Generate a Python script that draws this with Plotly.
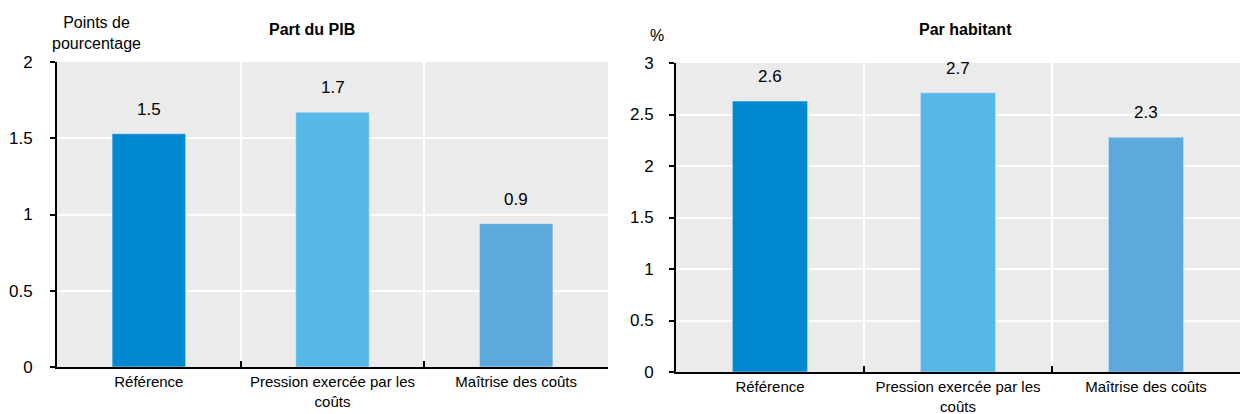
import plotly.graph_objects as go

categories = ["Référence", "Pression exercée par les<br>coûts", "Maîtrise des coûts"]
gdp_share = [1.53, 1.67, 0.94]
per_capita = [2.63, 2.71, 2.28]
bar_colors = ["#0089D0", "#55B8E8", "#5DA9DC"]

FONT = "Liberation Sans Narrow, Arial Narrow, Liberation Sans, Arial, sans-serif"
BG = "#EBEBEB"
W, H = 1242, 414

fig = go.Figure()
x_pos = list(range(len(categories)))

fig.add_trace(go.Bar(x=x_pos, y=gdp_share, marker_color=bar_colors, width=0.4,
                     xaxis="x", yaxis="y", showlegend=False, hoverinfo="skip"))
fig.add_trace(go.Bar(x=x_pos, y=per_capita, marker_color=bar_colors, width=0.4,
                     xaxis="x2", yaxis="y2", showlegend=False, hoverinfo="skip"))

# value labels above bars
for xa, ya, vals in (("x", "y", gdp_share), ("x2", "y2", per_capita)):
    for i, v in enumerate(vals):
        fig.add_annotation(x=i, y=v, xref=xa, yref=ya, text=f"{v:.1f}",
                           showarrow=False, yanchor="bottom", yshift=13,
                           font=dict(size=17, color="#000000", family=FONT))

xaxis_common = dict(
    range=[-0.5, 2.5], tickvals=x_pos, ticktext=categories, showgrid=False,
    ticks="", showline=True, linecolor="#000000", linewidth=2, zeroline=False,
    tickfont=dict(size=15, color="#000000", family=FONT), automargin=False,
    minor=dict(tickvals=[0.5, 1.5], showgrid=True, gridcolor="#FFFFFF", gridwidth=2,
               ticks="inside", ticklen=6, tickcolor="#000000", tickwidth=2),
    fixedrange=True,
)
yaxis_common = dict(
    showgrid=True, gridcolor="#FFFFFF", gridwidth=2, zeroline=False,
    showline=True, linecolor="#000000", linewidth=2, ticks="outside", ticklen=5,
    tickcolor="#000000", tickwidth=2, tickfont=dict(size=17, color="#000000", family=FONT),
    automargin=False, fixedrange=True,
)

fig.update_layout(
    width=W, height=H,
    margin=dict(l=0, r=0, t=0, b=0, autoexpand=False),
    paper_bgcolor="#FFFFFF",
    plot_bgcolor=BG,
    bargap=0.6,
    font=dict(family=FONT, color="#000000"),
    xaxis=dict(domain=[57 / W, 608 / W], anchor="y", **xaxis_common),
    yaxis=dict(domain=[1 - 367 / H, 1 - 62 / H], anchor="x", range=[0, 2],
               tickvals=[0, 0.5, 1, 1.5, 2], ticktext=["0", "0.5", "1", "1.5", "2"],
               ticklabelstandoff=14, **yaxis_common),
    xaxis2=dict(domain=[676 / W, 1240 / W], anchor="y2", **xaxis_common),
    yaxis2=dict(domain=[1 - 372 / H, 1 - 63 / H], anchor="x2", range=[0, 3],
                tickvals=[0, 0.5, 1, 1.5, 2, 2.5, 3],
                ticktext=["0", "0.5", "1", "1.5", "2", "2.5", "3"],
                ticklabelstandoff=12, **yaxis_common),
)

# panel titles and unit labels
def paper_text(x, y, text, size=16):
    fig.add_annotation(x=x / W, y=1 - y / H, xref="paper", yref="paper",
                       xanchor="center", yanchor="middle", text=text,
                       showarrow=False, font=dict(size=size, family=FONT, color="#000000"))

paper_text(312, 30, "<b>Part du PIB</b>")
paper_text(965, 30, "<b>Par habitant</b>")
paper_text(96, 33, "Points de<br>pourcentage")
paper_text(657, 35, "%")

fig.write_html("out.html")
